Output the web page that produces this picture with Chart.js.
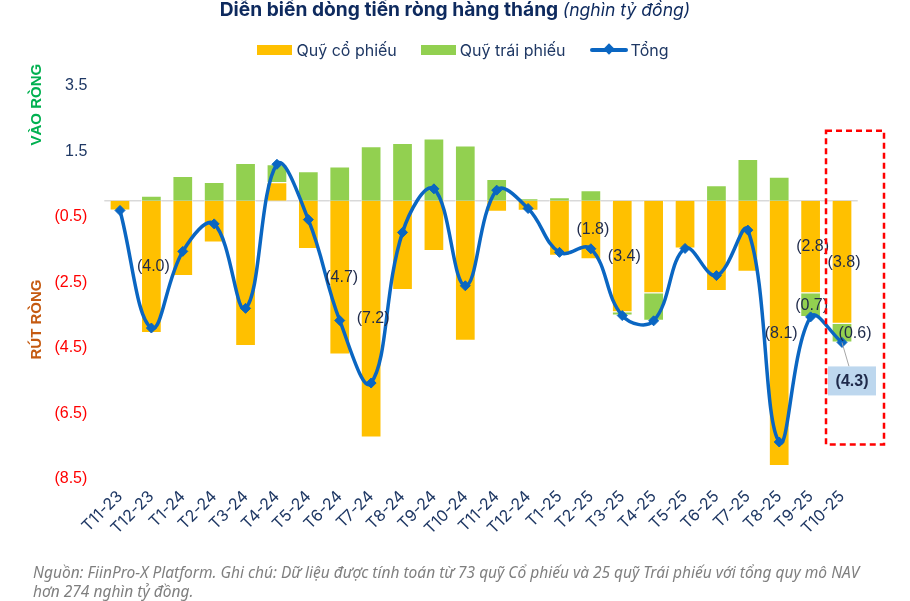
<!DOCTYPE html>
<html>
<head>
<meta charset="utf-8">
<script src="https://cdn.jsdelivr.net/npm/chart.js@4.4.1/dist/chart.umd.min.js"></script>
<style>
    body { margin: 0; background: #fff; }
    #wrap { position: relative; width: 910px; height: 601px; overflow: hidden; font-family: Inter, "Noto Sans", sans-serif; }
    #flowChart { position: absolute; left: 0; top: 0; }
    #title { position: absolute; top: -2px; left: 0; width: 910px; text-align: center; line-height: 22px; color: #0E2A5E; white-space: nowrap; }
    #title b { font-size: 19.2px; font-weight: 700; }
    #title i { font-size: 17.6px; font-weight: 400; }
    #legend { position: absolute; top: 40px; left: 8px; width: 910px; display: flex; justify-content: center; align-items: center; font-size: 16px; line-height: 20px; color: #1F3864; }
    #legend .item { display: flex; align-items: center; margin: 0 12px; }
    #legend .box { width: 35px; height: 10px; margin-right: 4px; }
    #legend .ln { position: relative; width: 38px; height: 4px; background: #0A66C2; margin-right: 3px; border-radius: 2px; }
    #legend .ln span { position: absolute; left: 15px; top: -3px; width: 8px; height: 8px; background: #0A66C2; transform: rotate(45deg); }
    #note { position: absolute; left: 33px; top: 563px; font-size: 15.5px; line-height: 18.5px; font-style: italic; color: #7F7F7F; white-space: nowrap; font-family: "Noto Sans", sans-serif; }
</style>
</head>
<body>
<div id="wrap">
    <canvas id="flowChart" width="910" height="601"></canvas>
    <div id="title"><b>Diễn biến dòng tiền ròng hàng tháng</b> <i>(nghìn tỷ đồng)</i></div>
    <div id="legend">
        <div class="item"><div class="box" style="background:#FFC000"></div>Quỹ cổ phiếu</div>
        <div class="item"><div class="box" style="background:#92D050"></div>Quỹ trái phiếu</div>
        <div class="item"><div class="ln"><span></span></div>Tổng</div>
    </div>
    <div id="note">Nguồn: FiinPro-X Platform. Ghi chú: Dữ liệu được tính toán từ 73 quỹ Cổ phiếu và 25 quỹ Trái phiếu với tổng quy mô NAV<br>hơn 274 nghìn tỷ đồng.</div>
</div>
<script>
// monthly net flows, thousand billion VND
const months = ['T11-23', 'T12-23', 'T1-24', 'T2-24', 'T3-24', 'T4-24', 'T5-24', 'T6-24', 'T7-24', 'T8-24', 'T9-24', 'T10-24',
    'T11-24', 'T12-24', 'T1-25', 'T2-25', 'T3-25', 'T4-25', 'T5-25', 'T6-25', 'T7-25', 'T8-25', 'T9-25', 'T10-25'];
const stockFlow = [-0.30, -4.04, -2.30, -1.28, -4.44, 0.56, -1.48, -4.70, -7.23, -2.73, -1.54, -4.28,
    -0.34, -0.31, -1.68, -1.79, -3.41, -2.83, -1.46, -2.76, -2.17, -8.10, -2.83, -3.76];
const bondFlow = [0, 0.15, 0.75, 0.57, 1.15, 0.55, 0.90, 1.04, 1.66, 1.76, 1.90, 1.68,
    0.66, 0.07, 0.10, 0.32, -0.10, -0.84, 0, 0.47, 1.27, 0.73, -0.72, -0.57];
const totalFlow = [-0.30, -3.89, -1.55, -0.71, -3.29, 1.11, -0.58, -3.66, -5.57, -0.97, 0.36, -2.60,
    0.32, -0.24, -1.58, -1.47, -3.51, -3.67, -1.46, -2.29, -0.90, -7.37, -3.55, -4.33];

// which points get a value label
const stockLabelIdx = [1, 7, 8, 15, 16, 21, 22, 23];
const bondLabelIdx = [22, 23];
const totalLabelIdx = [23];

const yMin = -8.5, yMax = 3.5, yStep = 2;

function fmt(v) {
    return v < 0 ? '(' + Math.abs(v).toFixed(1) + ')' : v.toFixed(1);
}

const zeroLine = {
    id: 'zeroLine',
    beforeDatasetsDraw(chart) {
        const { ctx, chartArea, scales } = chart;
        const y = scales.y.getPixelForValue(0);
        ctx.save();
        ctx.strokeStyle = '#D9D9D9';
        ctx.lineWidth = 1.5;
        ctx.beginPath();
        ctx.moveTo(chartArea.left, y);
        ctx.lineTo(chartArea.right, y);
        ctx.stroke();
        ctx.restore();
    }
};

const sideTitles = {
    id: 'sideTitles',
    afterDraw(chart) {
        const ctx = chart.ctx;
        const y = chart.scales.y;
        const put = (text, color, cy) => {
            ctx.save();
            ctx.translate(37, cy);
            ctx.rotate(-Math.PI / 2);
            ctx.font = 'bold 15px "Liberation Sans", Arial, sans-serif';
            ctx.fillStyle = color;
            ctx.textAlign = 'center';
            ctx.textBaseline = 'middle';
            ctx.fillText(text, 0, 0);
            ctx.restore();
        };
        put('VÀO RÒNG', '#00B050', y.getPixelForValue(2.93));
        put('RÚT RÒNG', '#C55A11', y.getPixelForValue(-3.63));
    }
};

const valueLabels = {
    id: 'valueLabels',
    afterDatasetsDraw(chart) {
        const ctx = chart.ctx;
        ctx.save();
        ctx.font = '16px "Liberation Sans", Arial, sans-serif';
        ctx.fillStyle = '#1F2A4A';
        ctx.textAlign = 'center';
        ctx.textBaseline = 'middle';
        const draw = (dsIndex, idxList, dx) => {
            const meta = chart.getDatasetMeta(dsIndex);
            const data = chart.data.datasets[dsIndex].data;
            idxList.forEach(i => {
                const p = meta.data[i].getCenterPoint();
                ctx.fillText(fmt(data[i]), p.x + dx(i), p.y);
            });
        };
        draw(0, stockLabelIdx, () => 2);
        draw(1, bondLabelIdx, i => (i === 23 ? 13 : 1));

        // highlighted total of the latest month
        const lineMeta = chart.getDatasetMeta(2);
        totalLabelIdx.forEach(i => {
            const pt = lineMeta.data[i];
            const bx = pt.x + 10, by = pt.y + 38;
            ctx.strokeStyle = '#A6A6A6';
            ctx.lineWidth = 1;
            ctx.beginPath();
            ctx.moveTo(pt.x, pt.y);
            ctx.lineTo(bx - 3, by - 14);
            ctx.stroke();
            ctx.fillStyle = '#BDD7EE';
            ctx.fillRect(bx - 24, by - 14, 48, 29);
            ctx.fillStyle = '#1F2A4A';
            ctx.font = 'bold 16px "Liberation Sans", Arial, sans-serif';
            ctx.fillText(fmt(totalFlow[i]), bx, by + 1);
        });
        ctx.restore();
    }
};

const focusBox = {
    id: 'focusBox',
    afterDraw(chart) {
        const { ctx, scales } = chart;
        const x = scales.x.getPixelForValue(months.length - 1);
        ctx.save();
        ctx.strokeStyle = '#FF0000';
        ctx.lineWidth = 2.5;
        ctx.setLineDash([6, 4]);
        const top = scales.y.getPixelForValue(2.13);
        const bottom = scales.y.getPixelForValue(-7.45);
        ctx.strokeRect(x - 16, top, 58, bottom - top);
        ctx.restore();
    }
};

document.addEventListener('DOMContentLoaded', function () {
    const ctx = document.getElementById('flowChart').getContext('2d');

    new Chart(ctx, {
        data: {
            labels: months,
            datasets: [
                {
                    type: 'bar',
                    label: 'Quỹ cổ phiếu',
                    data: stockFlow,
                    backgroundColor: '#FFC000',
                    borderColor: 'rgba(255,255,255,0.7)',
                    borderWidth: 1,
                    stack: 'flow',
                    order: 1,
                    barPercentage: 0.66,
                    categoryPercentage: 1
                },
                {
                    type: 'bar',
                    label: 'Quỹ trái phiếu',
                    data: bondFlow,
                    backgroundColor: '#92D050',
                    borderColor: 'rgba(255,255,255,0.7)',
                    borderWidth: 1,
                    stack: 'flow',
                    order: 1,
                    barPercentage: 0.66,
                    categoryPercentage: 1
                },
                {
                    type: 'line',
                    label: 'Tổng',
                    data: totalFlow,
                    borderColor: '#0A66C2',
                    borderWidth: 3.5,
                    tension: 0.4,
                    pointStyle: 'rectRot',
                    pointRadius: 5,
                    pointBackgroundColor: '#0A66C2',
                    pointBorderColor: '#0A66C2',
                    pointBorderWidth: 1,
                    stack: 'total',
                    order: 0,
                    clip: false
                }
            ]
        },
        options: {
            responsive: false,
            animation: false,
            layout: {
                padding: { left: 0, right: 52.3, top: 86, bottom: 0 }
            },
            scales: {
                x: {
                    stacked: true,
                    grid: { display: false, drawTicks: false },
                    border: { display: false },
                    afterFit: function (scale) { scale.height = 122; },
                    ticks: {
                        minRotation: 45,
                        maxRotation: 45,
                        autoSkip: false,
                        padding: 8,
                        color: '#1F3864',
                        font: { family: 'Inter', size: 16 }
                    }
                },
                y: {
                    stacked: true,
                    min: yMin,
                    max: yMax,
                    grid: { display: false, drawTicks: false },
                    border: { display: false },
                    afterFit: function (scale) { scale.width = 104.3; },
                    ticks: {
                        stepSize: yStep,
                        padding: 17,
                        font: { family: '"Liberation Sans", Arial', size: 16 },
                        color: function (c) { return c.tick.value < 0 ? '#FF0000' : '#1F3864'; },
                        callback: function (value) { return fmt(value); }
                    }
                }
            },
            plugins: {
                legend: { display: false },
                tooltip: { enabled: false }
            }
        },
        plugins: [zeroLine, valueLabels, focusBox, sideTitles]
    });
});
</script>
</body>
</html>
